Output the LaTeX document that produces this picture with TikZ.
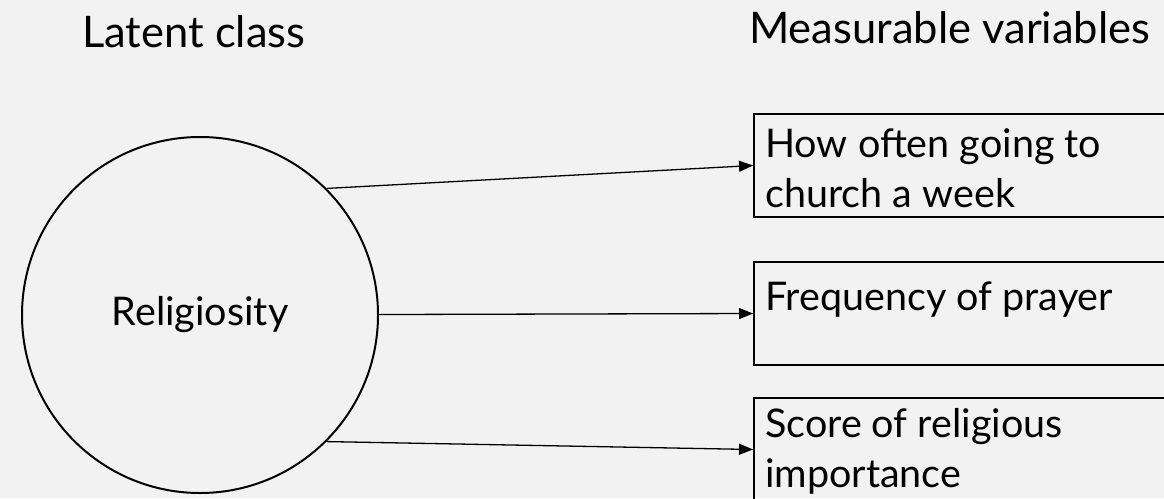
\documentclass[tikz,border=0pt]{standalone}
\usepackage{fontspec}
\setmainfont{Lato}
\usetikzlibrary{arrows.meta}
\definecolor{bg}{HTML}{F2F2F2}
\begin{document}
\begin{tikzpicture}[x=1pt,y=-1pt,
  box/.style={draw, line width=2pt, anchor=north west, minimum width=440pt, minimum height=103pt, inner sep=0pt},
  lbl/.style={anchor=base west, inner sep=0pt, align=left, font=\fontsize{39.5}{50}\selectfont},
  head/.style={anchor=base west, inner sep=0pt, font=\fontsize{43.5}{50}\selectfont},
  conn/.style={line width=1.3pt, -{Triangle[length=14pt,width=11pt]}}]
\useasboundingbox (0,0) rectangle (1164,498);
\clip (0,0) rectangle (1164,498);
\fill[bg] (0,0) rectangle (1164,498);
\node[head] (h1) at (82,47) {Latent class};
\node[head] (h2) at (749,43) {Measurable variables};
\node[draw, circle, line width=2pt, minimum size=356pt, inner sep=0pt, font=\fontsize{39.5}{46}\selectfont] (rel) at (200,315) {Religiosity};
\node[box] (b1) at (753,113) {};
\node[box] (b2) at (753,261) {};
\node[box] (b3) at (753,397) {};
\node[lbl] (t1) at (765,207) {How often going to\\church a week};
\node[lbl] (t2) at (765,310) {Frequency of prayer};
\node[lbl] (t3) at (765,487) {Score of religious\\importance};
\draw[conn] (rel.45) -- (b1.west);
\draw[conn] (rel) -- (b2.west);
\draw[conn] (rel.-45) -- (b3.west);
\end{tikzpicture}
\end{document}
